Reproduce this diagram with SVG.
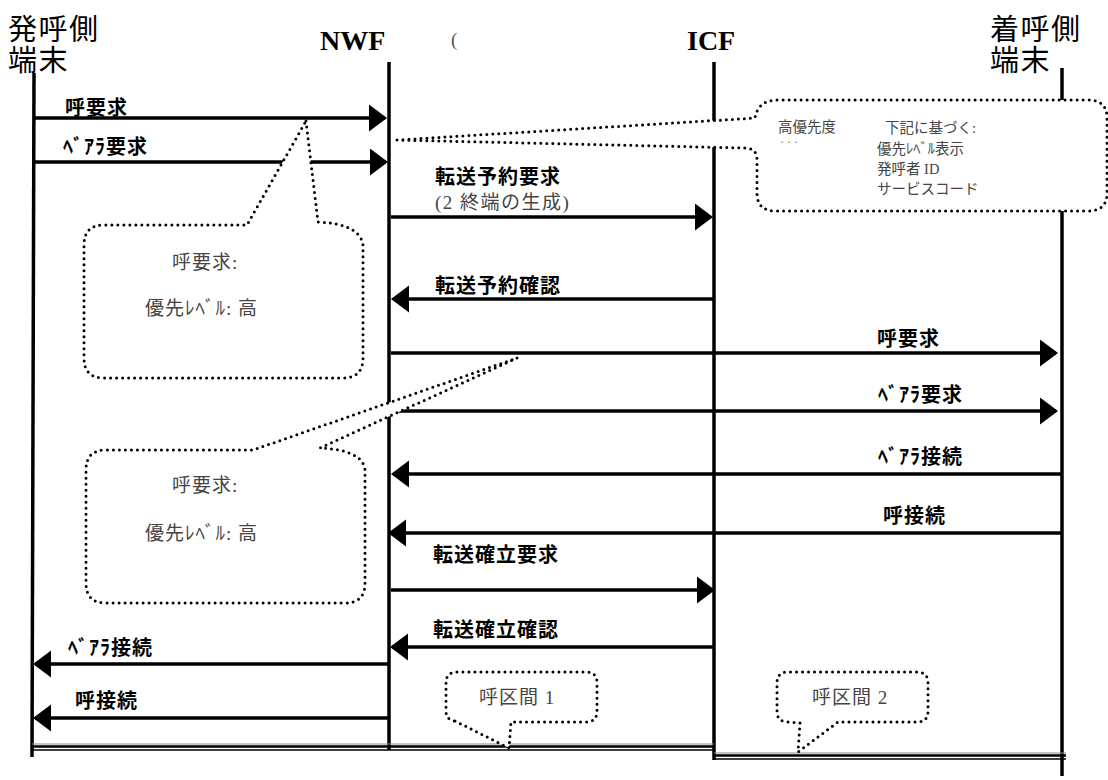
<svg xmlns="http://www.w3.org/2000/svg" width="1108" height="780" viewBox="0 0 1108 780">
<style>
.life{stroke:#000;stroke-width:3.5;fill:none}
.msg{stroke:#000;stroke-width:3.5;fill:none}
.lbl{font-family:'Noto Sans CJK JP',sans-serif;font-weight:700;font-size:20px;letter-spacing:1px;fill:#000}
.hdr{font-family:'Noto Sans CJK JP',sans-serif;font-size:29px;letter-spacing:1.5px;fill:#000}
.ent{font-family:'Liberation Serif',serif;font-weight:700;font-size:28px;fill:#000}
.co{fill:#fff;stroke:#000;stroke-width:3;stroke-dasharray:0 6;stroke-linecap:round;stroke-linejoin:round}
.ct{font-family:'Liberation Serif','Noto Sans CJK JP',serif;font-size:19px;letter-spacing:1px;fill:#444}
.cs{font-family:'Liberation Serif','Noto Sans CJK JP',serif;font-size:14.5px;fill:#444}
.sep1{stroke:#888;stroke-width:1}
.sep2{stroke:#000;stroke-width:2.5}
.sep3{stroke:#000;stroke-width:1.5}
</style>
<defs>
<marker id="ah" markerUnits="userSpaceOnUse" markerWidth="20" markerHeight="28" refX="16" refY="13.5" orient="auto" viewBox="0 0 20 28"><path d="M0,0 L18,13.5 L0,27 Z" fill="#000"/></marker>
</defs>
<rect width="1108" height="780" fill="#fff"/>

<g id="caller">
<text class="hdr" x="8" y="40">発呼側<tspan x="8" y="71">端末</tspan></text>
<line class="life" x1="34" y1="73" x2="32" y2="757"/>
</g>
<g id="nwf">
<text class="ent" x="320" y="50">NWF</text>
<line class="life" x1="389" y1="62" x2="389" y2="750"/>
</g>
<text x="451" y="46" font-family="'Liberation Serif',serif" font-size="19" fill="#555">(</text>
<g id="icf">
<text class="ent" x="687" y="50">ICF</text>
<line class="life" x1="714" y1="62" x2="714" y2="760"/>
</g>
<g id="callee">
<text class="hdr" x="990" y="40">着呼側<tspan x="990" y="71">端末</tspan></text>
<line class="life" x1="1062" y1="68" x2="1062" y2="776"/>
</g>

<g id="separators">
<line class="sep1" x1="32" y1="744" x2="714" y2="744"/>
<line class="sep2" x1="32" y1="746.5" x2="714" y2="746.5"/>
<line class="sep3" x1="32" y1="750" x2="714" y2="750"/>
<line class="sep1" x1="714" y1="753" x2="1066" y2="753"/>
<line class="sep2" x1="714" y1="755.5" x2="1066" y2="755.5"/>
<line class="sep3" x1="714" y1="759" x2="1066" y2="759"/>
</g>

<g id="connectors">
<line class="msg" x1="34" y1="118" x2="385" y2="118" marker-end="url(#ah)"/>
<line class="msg" x1="34" y1="162" x2="386" y2="162" marker-end="url(#ah)"/>
<line class="msg" x1="391" y1="217" x2="711" y2="217" marker-end="url(#ah)"/>
<line class="msg" x1="714" y1="299" x2="393" y2="299" marker-end="url(#ah)"/>
<line class="msg" x1="391" y1="353" x2="1056" y2="353" marker-end="url(#ah)"/>
<line class="msg" x1="391" y1="411" x2="1056" y2="411" marker-end="url(#ah)"/>
<line class="msg" x1="1062" y1="474" x2="393" y2="474" marker-end="url(#ah)"/>
<line class="msg" x1="1062" y1="533" x2="390" y2="533" marker-end="url(#ah)"/>
<line class="msg" x1="391" y1="590" x2="713" y2="590" marker-end="url(#ah)"/>
<line class="msg" x1="714" y1="647" x2="392" y2="647" marker-end="url(#ah)"/>
<line class="msg" x1="389" y1="664" x2="35" y2="664" marker-end="url(#ah)"/>
<line class="msg" x1="389" y1="718" x2="35" y2="718" marker-end="url(#ah)"/>
<text class="lbl" x="65" y="115">呼要求</text>
<text class="lbl" x="63" y="154">ﾍﾞｱﾗ要求</text>
<text class="lbl" x="435" y="184">転送予約要求</text>
<text class="ct" x="435" y="209" style="letter-spacing:1.5px">(2 終端の生成)</text>
<text class="lbl" x="435" y="293">転送予約確認</text>
<text class="lbl" x="877" y="346">呼要求</text>
<text class="lbl" x="878" y="402">ﾍﾞｱﾗ要求</text>
<text class="lbl" x="878" y="464">ﾍﾞｱﾗ接続</text>
<text class="lbl" x="883" y="523">呼接続</text>
<text class="lbl" x="433" y="562">転送確立要求</text>
<text class="lbl" x="433" y="637">転送確立確認</text>
<text class="lbl" x="68" y="655">ﾍﾞｱﾗ接続</text>
<text class="lbl" x="75" y="708">呼接続</text>
</g>

<g id="note-priority">
<path class="co" d="M397,140 L755,118 Q758,100 778,100 L1088,100 Q1107,100 1107,118 L1107,193 Q1107,211 1088,211 L776,211 Q757,211 757,193 L757,160 Q757,148 745,148 Z"/>
<text class="cs" x="778" y="132">高優先度</text>
<text x="780" y="146" font-family="'Liberation Serif',serif" font-size="12" fill="#666">· · ·</text>
<text class="cs" x="885" y="133">下記に基づく:</text>
<text class="cs" x="877" y="154">優先ﾚﾍﾞﾙ表示</text>
<text class="cs" x="877" y="174">発呼者 ID</text>
<text class="cs" x="877" y="194">サービスコード</text>
</g>

<g id="note-callreq-1">
<path class="co" d="M306,121 L318,222 Q360,224 363,245 L363,358 Q363,378 343,378 L104,378 Q84,378 84,358 L84,245 Q84,225 104,225 L247,225 Z"/>
<text class="ct" x="172" y="269">呼要求:</text>
<text class="ct" x="145" y="315">優先ﾚﾍﾞﾙ: 高</text>
</g>

<g id="note-callreq-2">
<path class="co" d="M517,358 L320,448 Q363,450 365,470 L365,583 Q365,603 345,603 L106,603 Q86,603 86,583 L86,470 Q86,450 106,450 L253,450 Z"/>
<text class="ct" x="172" y="492">呼要求:</text>
<text class="ct" x="145" y="540">優先ﾚﾍﾞﾙ: 高</text>
</g>

<g id="note-section-1">
<path class="co" d="M455,721 L509,748 L511,722 L586,722 Q597,722 597,711 L597,683 Q597,672 586,672 L457,672 Q446,672 446,683 L446,711 Q446,720 455,721 Z"/>
<text class="ct" x="479" y="704">呼区間 1</text>
</g>

<g id="note-section-2">
<path class="co" d="M788,722 Q777,722 777,711 L777,683 Q777,672 788,672 L917,672 Q928,672 928,683 L928,711 Q928,722 917,722 L838,722 L798,752 L800,723 Z"/>
<text class="ct" x="812" y="704">呼区間 2</text>
</g>
</svg>
